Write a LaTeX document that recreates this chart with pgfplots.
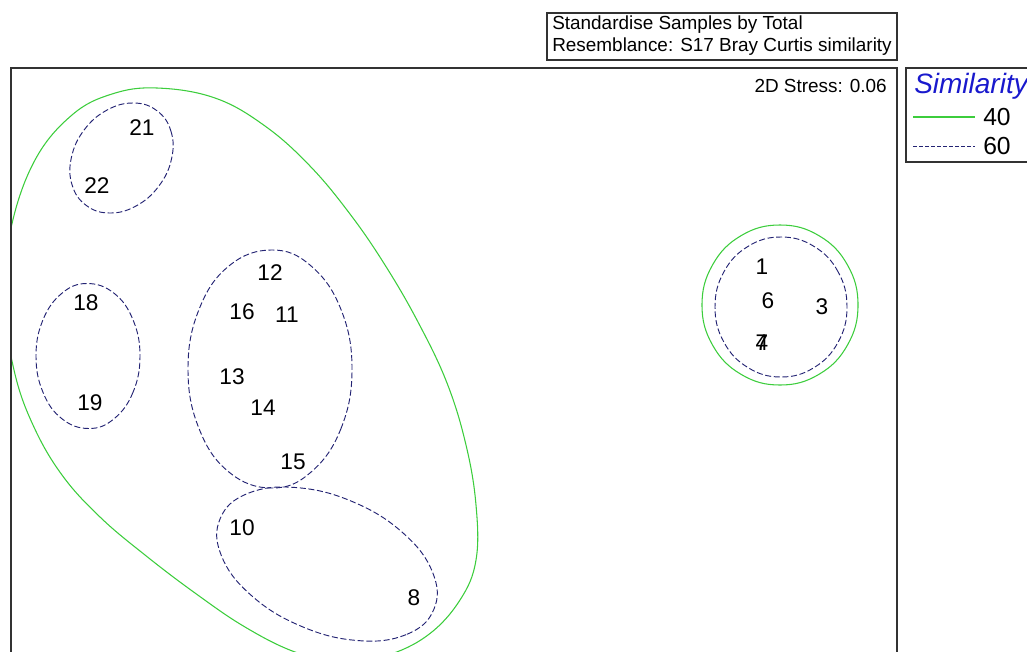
\documentclass[border=0pt]{standalone}
\usepackage{pgfplots}
\pgfplotsset{compat=1.18}
\usepackage{fontspec}
\setmainfont{Liberation Sans}
\definecolor{simgreen}{RGB}{60,205,60}
\definecolor{simnavy}{RGB}{35,35,115}
\definecolor{simblue}{RGB}{25,25,205}
\definecolor{framegray}{RGB}{50,50,50}
\begin{document}
\begin{tikzpicture}
\begin{axis}[
  at={(8.25pt,-51pt)}, anchor=north west,
  scale only axis, width=664.5pt, height=438pt,
  xmin=11, xmax=897, ymin=68, ymax=652, y dir=reverse,
  hide axis, clip=true,
  dashc/.style={simnavy, line width=0.7pt, dash pattern=on 4.5pt off 2pt, smooth cycle, tension=0.7},
]
% 40% similarity contours
\addplot[simgreen, line width=0.8pt, smooth cycle, tension=0.65] coordinates {
 (157,88) (215,98) (265,126) (310,166) (350,214) (385,265) (418,322) (447,383)
 (466,445) (476,505) (476,560) (460,600) (428,635) (385,656) (340,662) (295,652)
 (245,627) (195,593) (145,555) (100,517) (62,475) (33,425) (14,370) (4,300)
 (11,228) (35,160) (72,115) (112,94)};
\addplot[simgreen, line width=0.8pt, smooth cycle, tension=0.7] coordinates {
 (858,305) (847.5,265) (819,235.7) (780,225) (741,235.7) (712.5,265)
 (702,305) (712.5,345) (741,374.3) (780,385) (819,374.3) (847.5,345)};
% 60% similarity contours
\addplot[dashc] coordinates {
 (156.9,110.7) (170.9,131.0) (171.6,158.6) (158.9,186.0) (136.2,205.9) (109.5,213.0)
 (86.1,205.3) (72.1,185.0) (71.4,157.5) (84.1,130.0) (106.8,110.2) (133.5,103.0)};
\addplot[dashc] coordinates {
 (140,356) (133,392.3) (114,418.8) (89,428.5) (62,418.8) (43,392.3)
 (36,356) (43,319.8) (62,293.2) (87,283.5) (114,293.2) (133,319.8)};
\addplot[dashc] coordinates {
 (352,369) (341,428.5) (311,472.1) (272,488) (229,472.1) (199,428.5)
 (188,369) (199,309.5) (229,265.9) (272,250) (311,265.9) (341,309.5)};
\addplot[dashc] coordinates {
 (433.7,609.7) (406.1,634.6) (357.3,640.5) (300.4,625.9) (250.6,594.8) (221.3,555.4)
 (220.3,518.3) (247.9,493.4) (296.7,487.6) (353.6,502.1) (403.4,533.3) (432.7,572.6)};
\addplot[dashc] coordinates {
 (847,307) (838.2,272) (814,246.4) (781,237) (748,246.4) (723.8,272)
 (715,307) (723.8,342) (748,367.6) (781,377) (814,367.6) (838.2,342)};
% sample labels
\addplot[draw=none, mark=none, nodes near coords, point meta=explicit symbolic,
  every node near coord/.append style={anchor=center, inner sep=0pt, text=black,
  font=\fontsize{17pt}{20pt}\selectfont}]
 table[meta=label] {
x y label
142 128 21
97 186 22
86 303 18
90 403 19
270 273 12
242 312 16
287 315 11
232 377 13
263 408 14
293 462 15
242 528 10
414 598 8
762 267 1
768 301 6
822 307 3
762 343 7
762 343 4
};
\end{axis}
\begin{scope}[x=0.75pt, y=-0.75pt]
\draw[framegray, line width=0.8pt] (11,660) -- (11,68) -- (897,68) -- (897,660);
\draw[framegray, line width=0.8pt] (547,13) rectangle (897,60);
\node[anchor=west, inner sep=0pt, font=\fontsize{14.2pt}{16pt}\selectfont] at (552,25) {Standardise Samples by Total};
\node[anchor=west, inner sep=0pt, font=\fontsize{14.2pt}{16pt}\selectfont] at (552,47) {Resemblance: S17 Bray Curtis similarity};
\node[anchor=east, inner sep=0pt, font=\fontsize{14.2pt}{16pt}\selectfont] at (887,86) {2D Stress: 0.06};
\draw[framegray, line width=0.8pt] (906,68) rectangle (1045,162);
\node[anchor=west, inner sep=0pt, text=simblue, font=\fontsize{21pt}{24pt}\itshape] at (914,86) {Similarity};
\draw[simgreen, line width=0.8pt] (913,117) -- (975,117);
\draw[simnavy, line width=0.7pt, dash pattern=on 3pt off 1.5pt] (913,146) -- (975,146);
\node[anchor=west, inner sep=0pt, font=\fontsize{18.5pt}{21pt}\selectfont] at (983,117) {40};
\node[anchor=west, inner sep=0pt, font=\fontsize{18.5pt}{21pt}\selectfont] at (983,146) {60};
\pgfresetboundingbox
\path[use as bounding box] (0,0) rectangle (1027,652);
\end{scope}
\end{tikzpicture}
\end{document}
